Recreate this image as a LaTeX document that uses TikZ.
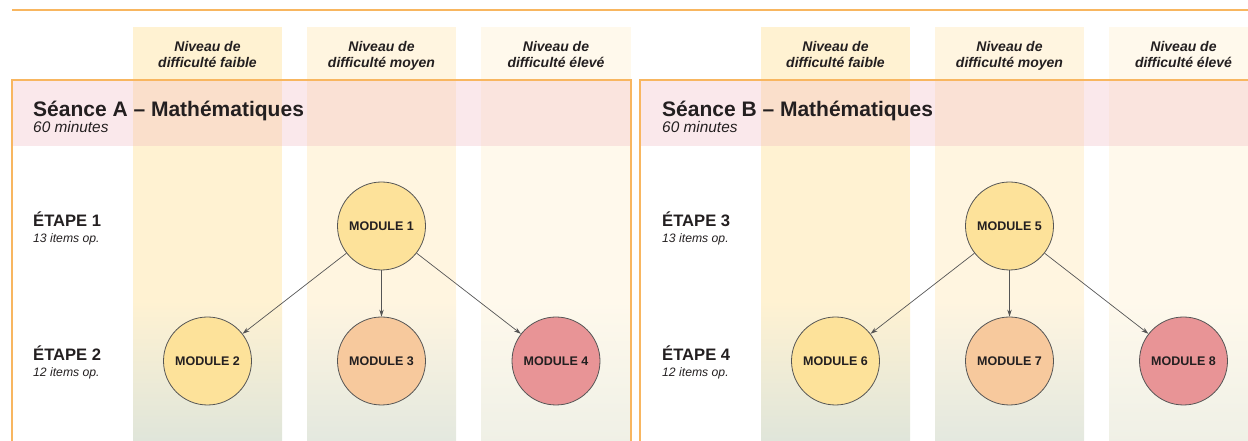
\documentclass[tikz,border=0pt]{standalone}
\usepackage{fontspec}
\setmainfont{Liberation Sans}
\usetikzlibrary{arrows.meta}
\definecolor{orng}{HTML}{F8B660}
\definecolor{txt}{HTML}{231F20}
\definecolor{cA}{HTML}{FFF2D2}
\definecolor{cB}{HTML}{FFF5E0}
\definecolor{cC}{HTML}{FFF9EC}
\definecolor{gA}{HTML}{DFE5DA}
\definecolor{gB}{HTML}{E3E8DF}
\definecolor{gC}{HTML}{EFF0E6}
\definecolor{bandpink}{RGB}{240,180,190}
\definecolor{mY}{HTML}{FDE29A}
\definecolor{mO}{HTML}{F7C99D}
\definecolor{mR}{HTML}{E89496}
\definecolor{edge}{HTML}{555555}
\tikzset{
 hdr/.style={font=\fontsize{14}{16}\selectfont\bfseries\itshape, text=txt, anchor=base, inner sep=0},
 ttl/.style={font=\fontsize{21}{25}\selectfont\bfseries, text=txt, anchor=base west, inner sep=0},
 sub/.style={font=\fontsize{15.4}{18}\selectfont\itshape, text=txt, anchor=base west, inner sep=0},
 etape/.style={font=\fontsize{16.6}{19}\selectfont\bfseries, text=txt, anchor=base west, inner sep=0},
 items/.style={font=\fontsize{12.2}{14}\selectfont\itshape, text=txt, anchor=base west, inner sep=0},
 module/.style={circle, draw=edge, line width=0.8pt, minimum size=88pt, inner sep=0pt, font=\fontsize{12.5}{14}\selectfont\bfseries, text=txt},
 conn/.style={draw=edge, line width=0.7pt, -{Stealth[length=7pt,width=4.5pt]}},
 panel/.style={draw=orng, line width=1.5pt},
}
\newcommand{\colband}[4]{%
 \fill[#3] (#1,414) rectangle (#2,140);
 \shade[top color=#3, bottom color=#4] (#1,140.5) rectangle (#2,-2);
}
\begin{document}
\begin{tikzpicture}[x=1pt,y=1pt]
\useasboundingbox (0,0) rectangle (1248,441);
% top line
\draw[orng, line width=1.5pt] (12,431) -- (1250,431);
% columns
\colband{133}{282}{cA}{gA}
\colband{307}{456}{cB}{gB}
\colband{481}{631}{cC}{gC}
\colband{761}{910}{cA}{gA}
\colband{935}{1084}{cB}{gB}
\colband{1109}{1258}{cC}{gC}
% pink bands
\fill[bandpink, opacity=0.3] (12,360) rectangle (631,295);
\fill[bandpink, opacity=0.3] (640,360) rectangle (1250,295);
% panels
\draw[panel] (12,-5) -- (12,361) -- (631,361) -- (631,-5);
\draw[panel] (640,-5) -- (640,361) -- (1252,361);
% headers
\foreach \cx/\lv [count=\i] in {207.5/faible,381.5/moyen,556/élevé,835.5/faible,1009.5/moyen,1183.5/élevé}{
 \node[hdr] (h\i a) at (\cx,389) {Niveau de};
 \node[hdr] (h\i b) at (\cx,373) {difficulté \lv};
}
% titles
\node[ttl] (tA) at (33,324) {Séance A – Mathématiques};
\node[sub] (sA) at (33,308) {60 minutes};
\node[ttl] (tB) at (662,324) {Séance B – Mathématiques};
\node[sub] (sB) at (662,308) {60 minutes};
% etapes
\node[etape] (e1) at (33,214.3) {ÉTAPE 1};
\node[items] (i1) at (33,198.3) {13 items op.};
\node[etape] (e2) at (33,80.3) {ÉTAPE 2};
\node[items] (i2) at (33,64.3) {12 items op.};
\node[etape] (e3) at (662,214.3) {ÉTAPE 3};
\node[items] (i3) at (662,198.3) {13 items op.};
\node[etape] (e4) at (662,80.3) {ÉTAPE 4};
\node[items] (i4) at (662,64.3) {12 items op.};
% modules
\node[module, fill=mY] (m1) at (381.5,215) {MODULE 1};
\node[module, fill=mY] (m2) at (207.5,80) {MODULE 2};
\node[module, fill=mO] (m3) at (381.5,80) {MODULE 3};
\node[module, fill=mR] (m4) at (556,80) {MODULE 4};
\node[module, fill=mY] (m5) at (1009.5,215) {MODULE 5};
\node[module, fill=mY] (m6) at (835.5,80) {MODULE 6};
\node[module, fill=mO] (m7) at (1009.5,80) {MODULE 7};
\node[module, fill=mR] (m8) at (1183.5,80) {MODULE 8};
% connectors
\draw[conn] (m1) -- (m2);
\draw[conn] (m1) -- (m3);
\draw[conn] (m1) -- (m4);
\draw[conn] (m5) -- (m6);
\draw[conn] (m5) -- (m7);
\draw[conn] (m5) -- (m8);
\end{tikzpicture}
\end{document}
